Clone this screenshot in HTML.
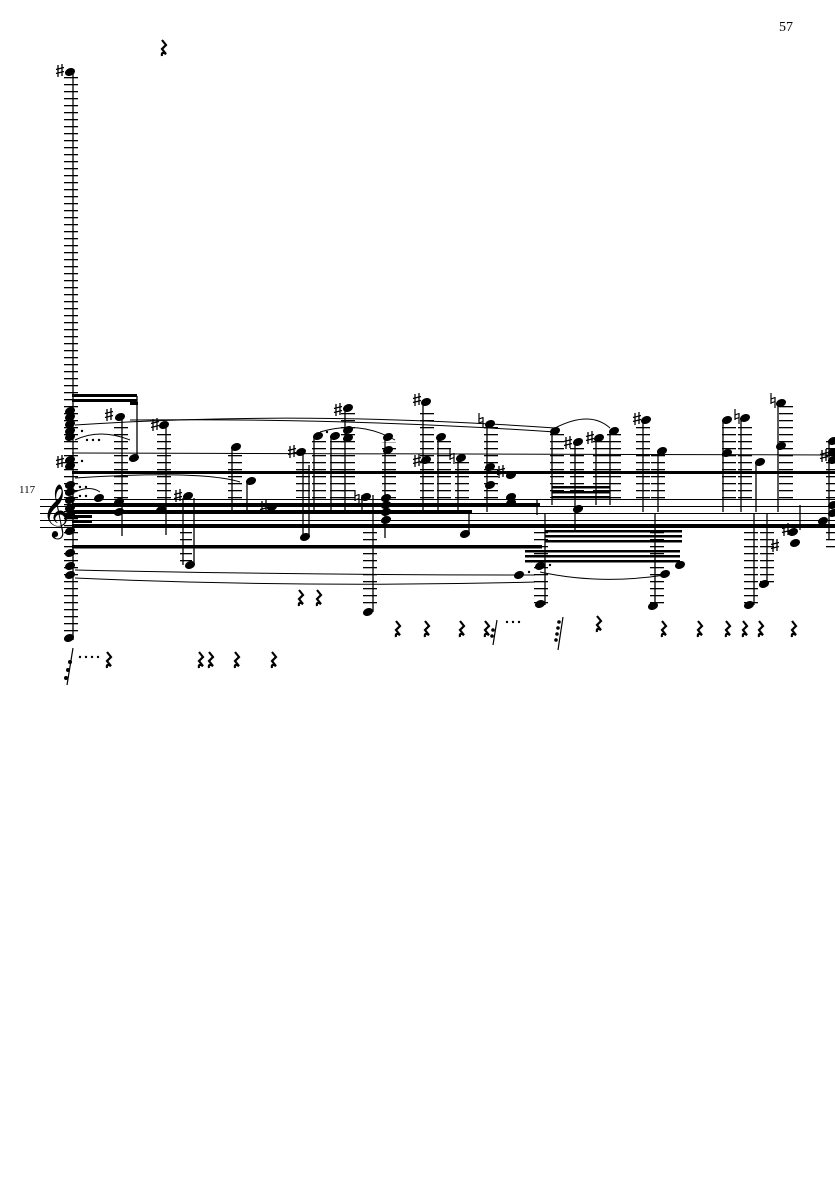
<!DOCTYPE html>
<html><head><meta charset="utf-8"><style>
html,body{margin:0;padding:0;background:#fff}
svg{display:block}
text{font-family:"Liberation Serif","DejaVu Serif",serif;fill:#000}
</style></head><body>
<svg width="835" height="1181" viewBox="0 0 835 1181" xmlns="http://www.w3.org/2000/svg">
<defs>
<pattern id="L" width="20" height="7" patternUnits="userSpaceOnUse"><rect x="0" y="0" width="20" height="1.3" fill="#000"/></pattern>
<g id="n"><ellipse cx="0" cy="0" rx="5.2" ry="3.8" transform="rotate(-22)" fill="#000"/></g>
<g id="s"><path d="M-2 -6V6M2 -7V5M-4 -1.5L4 -3.5M-4 2.5L4 0.5" stroke="#000" stroke-width="1.3" fill="none"/></g>
<g id="h"><path d="M-2 -7V4M2 -3V8M-2 -1L2 -2.5M-2 3L2 1.5" stroke="#000" stroke-width="1.2" fill="none"/></g>
<g id="r"><path d="M-1 -8L3 -3L-1 1L3 6Q-2 3 -1 8" stroke="#000" stroke-width="2.2" fill="none"/></g>
</defs>

<text x="779" y="31" font-size="14">57</text>
<text x="19" y="493" font-size="11">117</text>

<g stroke="#000" stroke-width="1">
<line x1="40" y1="499.5" x2="835" y2="499.5"/>
<line x1="40" y1="506.5" x2="835" y2="506.5"/>
<line x1="40" y1="513.5" x2="835" y2="513.5"/>
<line x1="40" y1="520.5" x2="835" y2="520.5"/>
<line x1="40" y1="527.5" x2="835" y2="527.5"/>
</g>
<text x="42" y="526" font-size="46" font-family="DejaVu Sans, sans-serif">𝄞</text>

<g fill="url(#L)">
<rect x="64" y="77" width="14" height="560"/>
<rect x="114" y="425" width="14" height="80"/>
<rect x="157" y="430" width="14" height="70"/>
<rect x="180" y="530" width="12" height="35"/>
<rect x="228" y="455" width="14" height="45"/>
<rect x="296" y="458" width="14" height="40"/>
<rect x="312" y="440" width="14" height="60"/>
<rect x="330" y="440" width="14" height="60"/>
<rect x="341" y="412" width="14" height="88"/>
<rect x="363" y="530" width="14" height="78"/>
<rect x="382" y="442" width="14" height="58"/>
<rect x="420" y="408" width="14" height="92"/>
<rect x="437" y="440" width="14" height="60"/>
<rect x="455" y="462" width="14" height="38"/>
<rect x="484" y="427" width="14" height="73"/>
<rect x="534" y="530" width="14" height="75"/>
<rect x="550" y="433" width="14" height="65"/>
<rect x="570" y="444" width="14" height="60"/>
<rect x="593" y="440" width="14" height="60"/>
<rect x="607" y="434" width="14" height="66"/>
<rect x="636" y="424" width="14" height="76"/>
<rect x="651" y="452" width="14" height="48"/>
<rect x="650" y="530" width="14" height="75"/>
<rect x="722" y="424" width="14" height="76"/>
<rect x="738" y="422" width="14" height="78"/>
<rect x="744" y="530" width="14" height="75"/>
<rect x="760" y="530" width="14" height="55"/>
<rect x="779" y="404" width="14" height="96"/>
<rect x="826" y="440" width="10" height="60"/>
<rect x="826" y="530" width="10" height="20"/>
</g>

<g stroke="#000" stroke-width="1.3">
<line x1="73" y1="72" x2="73" y2="640"/>
<line x1="122" y1="417" x2="122" y2="536"/>
<line x1="137" y1="396" x2="137" y2="457"/>
<line x1="166" y1="425" x2="166" y2="535"/>
<line x1="183" y1="498" x2="183" y2="565"/>
<line x1="194" y1="498" x2="194" y2="565"/>
<line x1="232" y1="447" x2="232" y2="512"/>
<line x1="247" y1="481" x2="247" y2="512"/>
<line x1="303" y1="452" x2="303" y2="537"/>
<line x1="309" y1="465" x2="309" y2="537"/>
<line x1="314" y1="436" x2="314" y2="512"/>
<line x1="331" y1="436" x2="331" y2="512"/>
<line x1="345" y1="408" x2="345" y2="512"/>
<line x1="362" y1="495" x2="362" y2="512"/>
<line x1="373" y1="495" x2="373" y2="612"/>
<line x1="385" y1="437" x2="385" y2="538"/>
<line x1="423" y1="402" x2="423" y2="512"/>
<line x1="438" y1="437" x2="438" y2="512"/>
<line x1="458" y1="460" x2="458" y2="512"/>
<line x1="469" y1="510" x2="469" y2="535"/>
<line x1="487" y1="424" x2="487" y2="512"/>
<line x1="537" y1="500" x2="537" y2="515"/>
<line x1="545" y1="514" x2="545" y2="605"/>
<line x1="552" y1="431" x2="552" y2="505"/>
<line x1="575" y1="444" x2="575" y2="532"/>
<line x1="596" y1="440" x2="596" y2="505"/>
<line x1="610" y1="431" x2="610" y2="505"/>
<line x1="643" y1="420" x2="643" y2="512"/>
<line x1="658" y1="450" x2="658" y2="512"/>
<line x1="655" y1="514" x2="655" y2="606"/>
<line x1="723" y1="420" x2="723" y2="512"/>
<line x1="741" y1="418" x2="741" y2="512"/>
<line x1="754" y1="514" x2="754" y2="605"/>
<line x1="756" y1="462" x2="756" y2="512"/>
<line x1="767" y1="514" x2="767" y2="585"/>
<line x1="778" y1="403" x2="778" y2="512"/>
<line x1="800" y1="505" x2="800" y2="530"/>
<line x1="829" y1="440" x2="829" y2="540"/>
</g>

<g fill="#000">
<rect x="72" y="394" width="65" height="3"/>
<rect x="72" y="399" width="65" height="3"/>
<rect x="130" y="402" width="8" height="3"/>
<rect x="72" y="471" width="763" height="3"/>
<rect x="72" y="503" width="468" height="3.5"/>
<rect x="72" y="510" width="400" height="3.5"/>
<rect x="72" y="524" width="763" height="4"/>
<rect x="72" y="545" width="470" height="3.5"/>
<rect x="545" y="530" width="137" height="2.5"/>
<rect x="545" y="535" width="137" height="2.5"/>
<rect x="545" y="540" width="137" height="2.5"/>
<rect x="525" y="550" width="155" height="2.5"/>
<rect x="525" y="555" width="155" height="2.5"/>
<rect x="525" y="560" width="155" height="2.5"/>
<rect x="552" y="486" width="58" height="2.5"/>
<rect x="552" y="491" width="58" height="2.5"/>
<rect x="552" y="496" width="58" height="2.5"/>
<rect x="72" y="520" width="20" height="3"/>
<rect x="72" y="515" width="20" height="3"/>
</g>

<g stroke="#000" stroke-width="1" fill="none">
<path d="M75 425 Q300 410 555 428"/>
<path d="M130 420 Q350 418 555 432"/>
<path d="M72 453 L835 455"/>
<path d="M75 440 Q100 428 130 440"/>
<path d="M75 478 Q200 470 240 482"/>
<path d="M75 570 Q300 575 535 575"/>
<path d="M75 578 Q300 588 535 582"/>
<path d="M320 432 Q360 420 395 440"/>
<path d="M540 572 Q600 585 665 575"/>
<path d="M555 428 Q590 410 610 428"/>
<path d="M75 492 Q90 485 100 492"/>
</g>

<g>
<use href="#n" x="70" y="72"/><use href="#s" x="60" y="71"/>
<use href="#n" x="70" y="411"/><use href="#n" x="70" y="417"/><use href="#n" x="70" y="424"/>
<use href="#n" x="70" y="431"/><use href="#n" x="70" y="437"/>
<use href="#n" x="70" y="460"/><use href="#n" x="70" y="466"/><use href="#s" x="60" y="462"/>
<use href="#n" x="70" y="485"/><use href="#n" x="70" y="492"/><use href="#n" x="70" y="500"/>
<use href="#n" x="70" y="508"/><use href="#n" x="70" y="515"/><use href="#n" x="70" y="531"/>
<use href="#n" x="70" y="553"/><use href="#n" x="70" y="566"/><use href="#n" x="70" y="575"/>
<use href="#n" x="69" y="638"/>
<use href="#n" x="120" y="417"/><use href="#s" x="109" y="415"/>
<use href="#n" x="134" y="458"/>
<use href="#n" x="99" y="498"/>
<use href="#n" x="119" y="502"/><use href="#n" x="119" y="512"/>
<use href="#n" x="164" y="425"/><use href="#s" x="155" y="425"/>
<use href="#n" x="161" y="510"/>
<use href="#n" x="188" y="496"/><use href="#s" x="178" y="496"/>
<use href="#n" x="190" y="565"/>
<use href="#n" x="236" y="447"/>
<use href="#n" x="251" y="481"/>
<use href="#n" x="272" y="507"/><use href="#s" x="264" y="507"/>
<use href="#n" x="301" y="452"/><use href="#s" x="292" y="452"/>
<use href="#n" x="305" y="537"/>
<use href="#n" x="318" y="436"/><use href="#n" x="335" y="436"/>
<use href="#n" x="348" y="408"/><use href="#s" x="338" y="410"/>
<use href="#n" x="348" y="430"/><use href="#n" x="348" y="438"/>
<use href="#n" x="366" y="497"/><use href="#h" x="357" y="497"/>
<use href="#n" x="386" y="498"/><use href="#n" x="386" y="505"/><use href="#n" x="386" y="512"/><use href="#n" x="386" y="520"/>
<use href="#n" x="368" y="612"/>
<use href="#n" x="388" y="437"/><use href="#n" x="388" y="450"/>
<use href="#n" x="426" y="402"/><use href="#s" x="417" y="400"/>
<use href="#n" x="426" y="460"/><use href="#s" x="417" y="461"/>
<use href="#n" x="441" y="437"/>
<use href="#n" x="461" y="458"/><use href="#h" x="452" y="456"/>
<use href="#n" x="465" y="534"/>
<use href="#n" x="490" y="424"/><use href="#h" x="481" y="420"/>
<use href="#n" x="490" y="467"/><use href="#n" x="490" y="485"/>
<use href="#n" x="511" y="475"/><use href="#s" x="501" y="472"/>
<use href="#n" x="511" y="497"/><use href="#n" x="511" y="503"/>
<use href="#n" x="519" y="575"/><use href="#n" x="540" y="566"/>
<use href="#n" x="540" y="604"/>
<use href="#n" x="555" y="431"/>
<use href="#n" x="578" y="442"/><use href="#s" x="568" y="443"/>
<use href="#n" x="578" y="509"/>
<use href="#n" x="599" y="438"/><use href="#s" x="590" y="438"/>
<use href="#n" x="614" y="431"/>
<use href="#n" x="646" y="420"/><use href="#s" x="637" y="419"/>
<use href="#n" x="662" y="451"/>
<use href="#n" x="665" y="574"/><use href="#n" x="680" y="565"/>
<use href="#n" x="653" y="606"/>
<use href="#n" x="727" y="420"/><use href="#n" x="727" y="453"/>
<use href="#n" x="745" y="418"/><use href="#h" x="737" y="416"/>
<use href="#n" x="760" y="462"/>
<use href="#n" x="749" y="605"/>
<use href="#n" x="764" y="584"/>
<use href="#n" x="781" y="403"/><use href="#h" x="773" y="400"/>
<use href="#n" x="781" y="446"/>
<use href="#n" x="793" y="532"/><use href="#n" x="795" y="543"/>
<use href="#s" x="786" y="530"/><use href="#s" x="775" y="546"/>
<use href="#n" x="823" y="521"/>
<use href="#n" x="833" y="441"/><use href="#n" x="833" y="452"/><use href="#n" x="833" y="460"/>
<use href="#s" x="824" y="456"/>
<use href="#n" x="833" y="505"/><use href="#n" x="833" y="513"/>
</g>

<g fill="#000">
<circle cx="82" cy="431" r="1.2"/><circle cx="87" cy="440" r="1.2"/><circle cx="93" cy="440" r="1.2"/><circle cx="99" cy="440" r="1.2"/>
<circle cx="82" cy="461" r="1.2"/><circle cx="80" cy="487" r="1.2"/><circle cx="86" cy="487" r="1.2"/>
<circle cx="80" cy="496" r="1.2"/><circle cx="86" cy="496" r="1.2"/>
<circle cx="327" cy="432" r="1.2"/><circle cx="550" cy="565" r="1.2"/><circle cx="529" cy="572" r="1.2"/>
<circle cx="80" cy="657" r="1.2"/><circle cx="86" cy="657" r="1.2"/><circle cx="92" cy="657" r="1.2"/><circle cx="98" cy="657" r="1.2"/>
<circle cx="507" cy="622" r="1.2"/><circle cx="513" cy="622" r="1.2"/><circle cx="519" cy="622" r="1.2"/>
</g>

<g>
<use href="#r" x="163" y="48"/>
<use href="#r" x="108" y="660"/><use href="#r" x="200" y="660"/><use href="#r" x="210" y="660"/>
<use href="#r" x="236" y="660"/><use href="#r" x="273" y="660"/>
<use href="#r" x="300" y="598"/><use href="#r" x="318" y="598"/>
<use href="#r" x="397" y="629"/><use href="#r" x="426" y="629"/><use href="#r" x="461" y="629"/>
<use href="#r" x="486" y="629"/><use href="#r" x="598" y="624"/><use href="#r" x="663" y="629"/>
<use href="#r" x="699" y="629"/><use href="#r" x="727" y="629"/><use href="#r" x="744" y="629"/>
<use href="#r" x="760" y="629"/><use href="#r" x="793" y="629"/>
</g>
<g stroke="#000" stroke-width="1.2">
<line x1="73" y1="648" x2="67" y2="685"/>
<line x1="563" y1="617" x2="558" y2="650"/>
<line x1="497" y1="620" x2="493" y2="645"/>
</g>
<g fill="#000">
<circle cx="70" cy="662" r="2"/><circle cx="68" cy="670" r="2"/><circle cx="66" cy="678" r="2"/>
<circle cx="559" cy="622" r="1.8"/><circle cx="558" cy="628" r="1.8"/><circle cx="557" cy="634" r="1.8"/><circle cx="556" cy="640" r="1.8"/>
<circle cx="493" cy="630" r="1.8"/><circle cx="492" cy="636" r="1.8"/>
</g>
</svg>
</body></html>
